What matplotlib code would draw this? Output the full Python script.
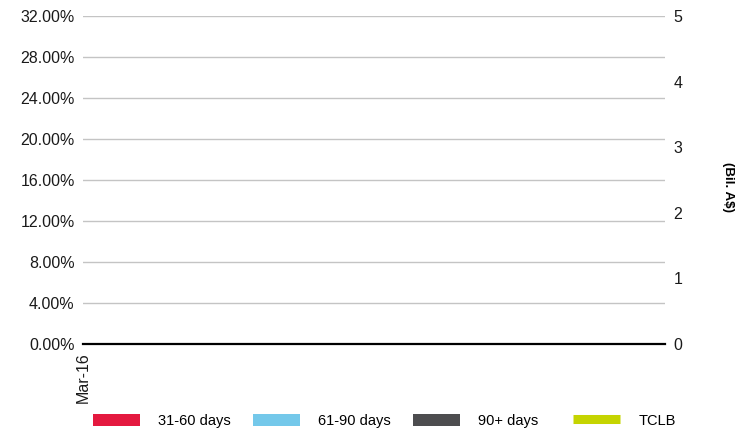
import numpy as np
import matplotlib
matplotlib.use("Agg")
import matplotlib.pyplot as plt
from matplotlib.patches import Patch
from matplotlib.lines import Line2D

plt.rcParams['font.family'] = ['Liberation Sans', 'DejaVu Sans']
plt.rcParams['font.size'] = 10

# data (chart is empty apart from the first period)
categories = ["Mar-16"]
days_31_60 = [0.0]
days_61_90 = [0.0]
days_90_plus = [0.0]
tclb = [np.nan]
left_ticks = [0, 0.04, 0.08, 0.12, 0.16, 0.20, 0.24, 0.28, 0.32]
right_ticks = [0, 1, 2, 3, 4, 5]

fig = plt.figure(figsize=(7.5, 4.34), dpi=100)
ax = fig.add_axes([83/750, 1-344/434, (665-83)/750, (344-16)/434])

x = np.arange(len(categories))
ax.bar(x, days_31_60, width=0.5, color="#e4193f")
ax.bar(x, days_61_90, width=0.5, bottom=days_31_60, color="#74c8ea")
ax.bar(x, days_90_plus, width=0.5,
       bottom=np.array(days_31_60)+np.array(days_61_90), color="#4d4d4f")

ax.set_xlim(0, 1)
ax.set_ylim(0, 0.32)
ax.set_yticks(left_ticks)
ax.set_yticklabels(["%.2f%%" % (v*100) for v in left_ticks])
ax.set_xticks(x)
ax.set_xticklabels(categories, rotation=90, va="top", ha="center")
ax.tick_params(axis="both", length=0, labelsize=11.5, colors="#1a1a1a")
ax.tick_params(axis="y", pad=6)
ax.tick_params(axis="x", pad=6)
ax.grid(axis="y", color="#c4c4c4", linewidth=1)
ax.set_axisbelow(True)
for s in ["top", "right", "left"]:
    ax.spines[s].set_visible(False)
ax.spines["bottom"].set_color("#000000")
ax.spines["bottom"].set_linewidth(1.6)
ax.spines["bottom"].set_zorder(5)

ax2 = ax.twinx()
ax2.plot(x, tclb, color="#c5d400", linewidth=2)
ax2.set_ylim(0, 5)
ax2.set_yticks(right_ticks)
ax2.tick_params(axis="y", length=0, labelsize=11.5, pad=6, colors="#1a1a1a")
for s in ax2.spines.values():
    s.set_visible(False)
fig.text(728/750, 1-187/434, "(Bil. A$)", rotation=270, ha="center", va="center",
         fontsize=9.6, fontweight="bold")

# legend, fixed column spacing
entries = [
    ("31-60 days", Patch(facecolor="#e4193f", edgecolor="none")),
    ("61-90 days", Patch(facecolor="#74c8ea", edgecolor="none")),
    ("90+ days", Patch(facecolor="#4d4d4f", edgecolor="none")),
    ("TCLB", Line2D([], [], color="#c5d400", linewidth=6.5, solid_capstyle="butt")),
]
for i, (lab, h) in enumerate(entries):
    fig.legend(handles=[h], labels=[lab], loc="center left",
               bbox_to_anchor=((93 + 160*i)/750, 1-421/434),
               frameon=False, borderpad=0, borderaxespad=0,
               handlelength=3.2, handleheight=0.95, handletextpad=1.28, fontsize=10.5)

fig.savefig("out.png", dpi=100)
